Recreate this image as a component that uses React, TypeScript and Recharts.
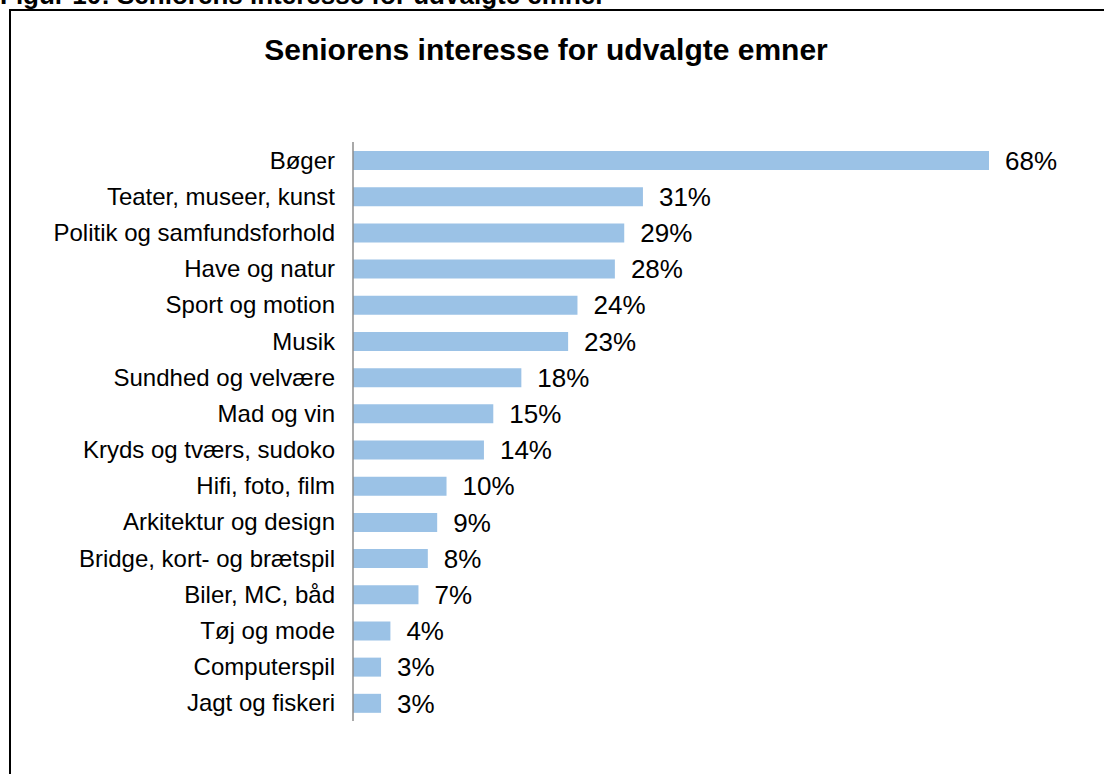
import React from "react";
import { BarChart, Bar, XAxis, YAxis, LabelList } from "recharts";

const categories = [
  "Bøger",
  "Teater, museer, kunst",
  "Politik og samfundsforhold",
  "Have og natur",
  "Sport og motion",
  "Musik",
  "Sundhed og velvære",
  "Mad og vin",
  "Kryds og tværs, sudoko",
  "Hifi, foto, film",
  "Arkitektur og design",
  "Bridge, kort- og brætspil",
  "Biler, MC, båd",
  "Tøj og mode",
  "Computerspil",
  "Jagt og fiskeri",
];
const values = [68, 31, 29, 28, 24, 23, 18, 15, 14, 10, 9, 8, 7, 4, 3, 3];
const title = "Seniorens interesse for udvalgte emner";
const caption = "Figur 10: Seniorens interesse for udvalgte emner";

const data = categories.map((name, i) => ({ name, value: values[i] }));

const FONT = "'Liberation Sans', Arial, Helvetica, sans-serif";

export default function App() {
  return (
    <div
      style={{
        position: "absolute",
        left: 0,
        top: 0,
        width: 1104,
        height: 774,
        overflow: "hidden",
        background: "#fff",
        fontFamily: FONT,
      }}
    >
      <div
        style={{
          position: "absolute",
          left: 0,
          top: -20,
          fontSize: 26,
          fontWeight: "bold",
          whiteSpace: "nowrap",
          color: "#000",
          lineHeight: "30px",
        }}
      >
        {caption}
      </div>
      <div
        style={{
          position: "absolute",
          left: 9,
          top: 9,
          width: 1200,
          height: 900,
          borderLeft: "2px solid #000",
          borderTop: "2px solid #000",
        }}
      />
      <div
        style={{
          position: "absolute",
          left: -6,
          width: 1104,
          top: 31,
          textAlign: "center",
          fontSize: 30,
          fontWeight: "bold",
          color: "#000",
          lineHeight: "38px",
        }}
      >
        {title}
      </div>
      <div style={{ position: "absolute", left: 0, top: 0 }}>
        <BarChart
          width={1104}
          height={774}
          layout="vertical"
          data={data}
          margin={{ top: 142, right: 115, bottom: 53, left: 0 }}
          barSize={19}
        >
          <XAxis type="number" domain={[0, 68]} hide />
          <YAxis
            type="category"
            dataKey="name"
            width={353}
            tickLine={false}
            axisLine={{ stroke: "#8c8c8c", strokeWidth: 1.5 }}
            tick={{ fill: "#000", fontSize: 24, fontFamily: FONT }}
            tickMargin={12}
            interval={0}
          />
          <Bar dataKey="value" fill="#9BC2E6" isAnimationActive={false}>
            <LabelList
              dataKey="value"
              position="right"
              offset={16}
              formatter={(v: any) => `${v}%`}
              style={{ fill: "#000", fontSize: 26, fontFamily: FONT }}
            />
          </Bar>
        </BarChart>
      </div>
    </div>
  );
}
